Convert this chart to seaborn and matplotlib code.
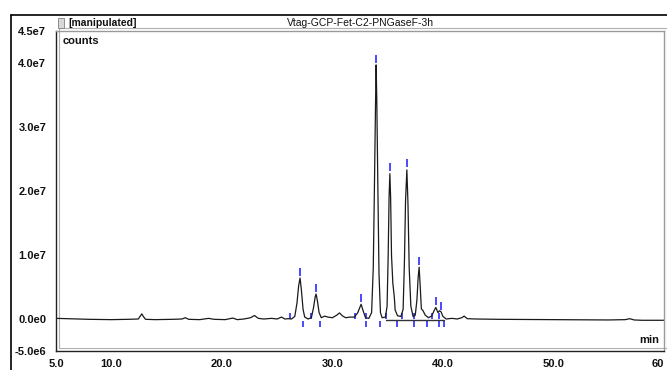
import matplotlib
matplotlib.use("Agg")
import matplotlib.pyplot as plt
import matplotlib.patches as mpatches
from matplotlib.ticker import MultipleLocator
import pandas as pd
import seaborn as sns

# Chromatogram trace (time in min, intensity in 1e6 counts)
trace_time = [5.0, 6.0, 8.0, 10.0, 11.5, 12.45, 12.6, 12.76, 12.9, 13.1, 14.0, 15.5,
              16.4, 16.7, 17.0, 18.0, 18.8, 19.3, 20.3, 21.0, 21.4, 22.0, 22.6, 22.95,
              23.3, 23.8, 24.5, 25.0, 25.4, 25.7, 26.0, 26.3, 26.6, 26.8, 26.95, 27.08,
              27.2, 27.35, 27.5, 27.8, 28.1, 28.3, 28.45, 28.53, 28.65, 28.8, 29.0, 29.3,
              29.6, 30.0, 30.4, 30.65, 30.9, 31.2, 31.6, 32.0, 32.3, 32.6, 32.8, 33.0,
              33.3, 33.55, 33.7, 33.8, 33.9, 33.96, 34.02, 34.12, 34.22, 34.35, 34.5, 34.8,
              34.95, 35.05, 35.13, 35.2, 35.27, 35.35, 35.47, 35.6, 35.68, 35.9, 36.2, 36.4,
              36.52, 36.62, 36.74, 36.84, 36.95, 37.1, 37.3, 37.5, 37.65, 37.76, 37.85, 37.95,
              38.05, 38.2, 38.4, 38.7, 39.0, 39.2, 39.36, 39.55, 39.7, 39.84, 40.0, 40.3,
              40.8, 41.3, 41.7, 41.92, 42.2, 43.0, 45.0, 50.0, 55.0, 56.5, 56.9, 57.3,
              58.0, 60.0]
trace_counts = [0.1, 0.05, -0.05, -0.1, -0.05, 0.0, 0.4, 0.8, 0.4, -0.05, -0.1, -0.05,
                0.0, 0.2, -0.05, -0.1, 0.1, -0.05, -0.1, 0.15, -0.1, 0.0, 0.2, 0.55,
                0.1, 0.0, 0.1, 0.0, 0.3, 0.0, 0.05, 0.0, 0.4, 2.5, 5.2, 6.4,
                4.5, 1.5, 0.3, 0.0, 0.2, 1.8, 3.5, 3.9, 2.8, 1.0, 0.2, 0.45,
                0.3, 0.2, 0.6, 0.95, 0.5, 0.2, 0.3, 0.3, 1.0, 2.3, 1.2, 0.2,
                0.1, 1.0, 8.0, 20.0, 33.0, 39.7, 34.0, 20.0, 7.0, 1.0, 0.2, 0.3,
                2.0, 10.0, 19.0, 22.7, 19.0, 10.0, 5.6, 3.5, 1.4, 0.5, 0.4, 1.5,
                9.0, 18.5, 23.3, 18.0, 8.0, 2.0, 0.4, 0.6, 3.0, 6.5, 8.1, 5.0,
                1.6, 1.3, 0.6, 0.2, 0.5, 1.3, 1.8, 1.0, 1.3, 1.1, 0.4, 0.0,
                0.1, 0.0, 0.2, 0.45, 0.05, 0.0, -0.05, -0.1, -0.15, -0.1, 0.05, -0.15,
                -0.2, -0.2]

# Integration marks (min)
apex_time = [27.08, 28.53, 32.6, 33.96, 35.2, 36.74, 37.85, 39.36, 39.84]
apex_counts = [6.4, 3.9, 2.3, 39.7, 22.7, 23.3, 8.1, 1.8, 1.1]
start_time = [26.18, 28.08, 32.06, 33.05, 34.86, 36.34, 37.43, 39.0, 39.66]
end_time = [27.38, 28.9, 33.05, 34.32, 35.89, 37.43, 38.55, 39.66, 40.14]
base_time = [34.86, 40.14]
base_counts = [-0.15, -0.15]

y_ticks = [-5e6, 0, 1e7, 2e7, 3e7, 4e7, 4.5e7]
y_labels = ["-5.0e6", "0.0e0", "1.0e7", "2.0e7", "3.0e7", "4.0e7", "4.5e7"]
x_ticks = [5, 10, 20, 30, 40, 50, 60]
x_labels = ["5.0", "10.0", "20.0", "30.0", "40.0", "50.0", "60"]

sns.set_style("white")
plt.rcParams['font.family'] = ['Liberation Sans', 'DejaVu Sans']

W, H = 667, 370
fig = plt.figure(figsize=(W / 100, H / 100), dpi=100)
ax = fig.add_axes([56 / W, (H - 351) / H, 608 / W, 320 / H])

trace = pd.DataFrame({"t": trace_time, "c": [v * 1e6 for v in trace_counts]})
sns.lineplot(data=trace, x="t", y="c", ax=ax, color="#1a1a1a", lw=0.9, sort=False)
sns.lineplot(x=base_time, y=[v * 1e6 for v in base_counts], ax=ax, color="#333333", lw=1.0)

# peak apex marks and start / end ticks
blue = "#3b3bff"
sns.scatterplot(x=apex_time, y=[(v + 1.0) * 1e6 for v in apex_counts], ax=ax,
                marker="|", s=26, color=blue, linewidth=1.3)
sns.scatterplot(x=start_time, y=[0.45e6] * len(start_time), ax=ax,
                marker="|", s=24, color=blue, linewidth=1.3)
sns.scatterplot(x=end_time, y=[-0.75e6] * len(end_time), ax=ax,
                marker="|", s=24, color=blue, linewidth=1.3)

ax.set_xlim(5, 60)
ax.set_ylim(-5e6, 4.5e7)
ax.set_xlabel("")
ax.set_ylabel("")

ax.set_xticks(x_ticks)
ax.set_xticklabels(x_labels)
ax.xaxis.set_minor_locator(MultipleLocator(2.5))
ax.set_yticks(y_ticks)
ax.set_yticklabels(y_labels)
ax.yaxis.set_minor_locator(MultipleLocator(2.5e6))
ax.tick_params(axis="both", which="major", direction="out", length=4, width=0.8,
               color="#222222", labelsize=8, labelcolor="#111111")
ax.tick_params(axis="both", which="minor", direction="out", length=3, width=0.8,
               color="#222222")
ax.tick_params(axis="y", pad=3)
ax.tick_params(axis="x", pad=1.5)
for lab in ax.get_xticklabels() + ax.get_yticklabels():
    lab.set_fontweight("bold")
ax.get_xticklabels()[-1].set_horizontalalignment("right")

for side in ["left", "bottom"]:
    ax.spines[side].set_color("#222222")
    ax.spines[side].set_linewidth(1.0)
for side in ["top", "right"]:
    ax.spines[side].set_color("#9a9a9a")
    ax.spines[side].set_linewidth(1.0)

# inner double-line box
ax.add_patch(mpatches.Rectangle((3 / 608, 3 / 320), 1, 1, transform=ax.transAxes,
                                fill=False, edgecolor="#b0b0b0", lw=0.8, clip_on=False))

ax.text(7 / 608, 1 - 10 / 320, "counts", transform=ax.transAxes, fontsize=8,
        ha="left", va="center", color="#111111", fontweight="bold")
ax.text(1 - 5 / 608, 11 / 320, "min", transform=ax.transAxes, fontsize=8,
        ha="right", va="center", color="#111111", fontweight="bold")

# outer panel frame and header row
fig.add_artist(plt.Line2D([11 / W, 11 / W], [0, 1 - 15 / H], color="black", lw=1.2))
fig.add_artist(plt.Line2D([11 / W, 1], [1 - 15 / H, 1 - 15 / H], color="black", lw=1.2))
fig.add_artist(mpatches.Rectangle((58 / W, 1 - 28 / H), 6 / W, 10 / H, facecolor="#d8d8d8",
                                  edgecolor="#808080", lw=0.6, transform=fig.transFigure))
fig.text(68 / W, 1 - 23 / H, "[manipulated]", fontsize=7.5, ha="left", va="center",
         color="#111111", fontweight="bold")
fig.text(360 / W, 1 - 23 / H, "Vtag-GCP-Fet-C2-PNGaseF-3h", fontsize=7.5, ha="center",
         va="center", color="#111111")

fig.savefig("out.png", dpi=100)
